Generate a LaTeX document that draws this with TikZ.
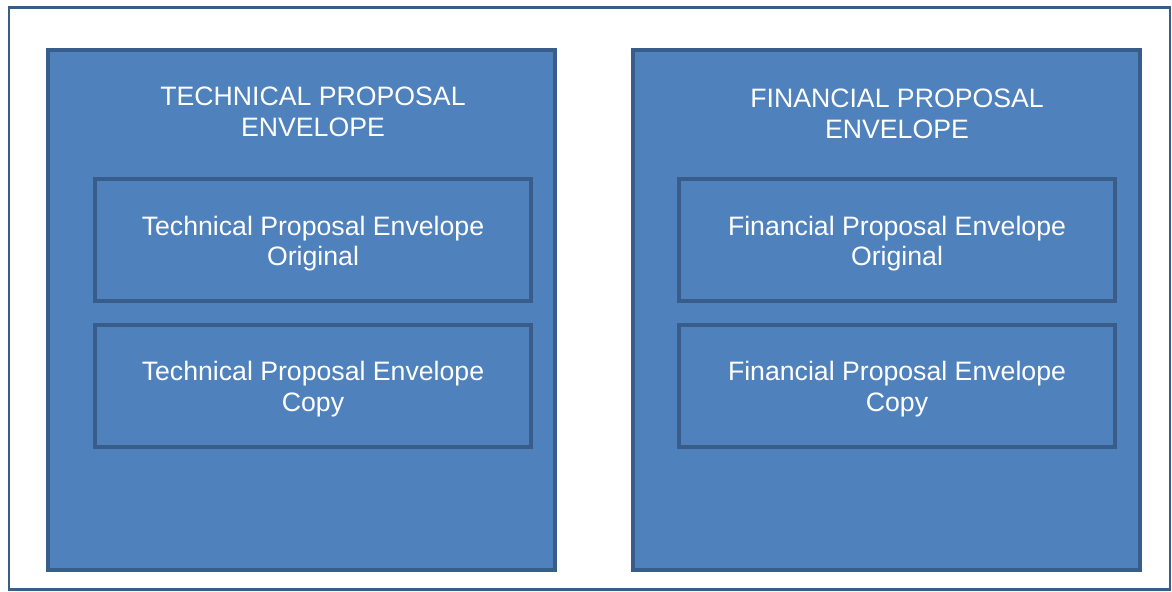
\documentclass[tikz,border=0pt]{standalone}
\usepackage{fontspec}
\setmainfont{Liberation Sans}
\definecolor{envfill}{HTML}{4F81BD}
\definecolor{envline}{HTML}{385D8A}

\begin{document}
\begin{tikzpicture}[x=0.75pt,y=-0.75pt]
\tikzstyle{frame}=[rectangle,draw=envline,line width=2pt,fill=white]
\tikzstyle{env}=[rectangle,draw=envline,fill=envfill,line width=2.8pt,minimum width=507*0.75pt,minimum height=520*0.75pt,inner sep=0pt]
\tikzstyle{part}=[rectangle,draw=envline,fill=envfill,line width=3pt,minimum width=436*0.75pt,minimum height=122*0.75pt]
\tikzstyle{parttext}=[align=center,text=white,font=\fontsize{20}{23}\selectfont,yshift=-2.6pt]
\tikzstyle{title}=[align=center,text=white,font=\fontsize{20}{23}\selectfont]
\useasboundingbox (0,0) rectangle (1172,592);
\node[frame,minimum width=1161*0.75pt,minimum height=582*0.75pt] (page) at (589.5,298.5) {};
% technical side
\node[env] (tech) at (301.5,310) {};
\node[title] (techtitle) at (313,111.5) {TECHNICAL PROPOSAL\\ENVELOPE};
\node[part,label={[parttext]center:{Technical Proposal Envelope\\Original}}] (techorig) at (313,240) {};
\node[part,label={[parttext]center:{Technical Proposal Envelope\\Copy}}] (techcopy) at (313,385.5) {};
% financial side
\node[env] (fin) at (886.5,310) {};
\node[title] (fintitle) at (897,113.5) {FINANCIAL PROPOSAL\\ENVELOPE};
\node[part,label={[parttext]center:{Financial Proposal Envelope\\Original}}] (finorig) at (897,240) {};
\node[part,label={[parttext]center:{Financial Proposal Envelope\\Copy}}] (fincopy) at (897,385.5) {};
\end{tikzpicture}
\end{document}
